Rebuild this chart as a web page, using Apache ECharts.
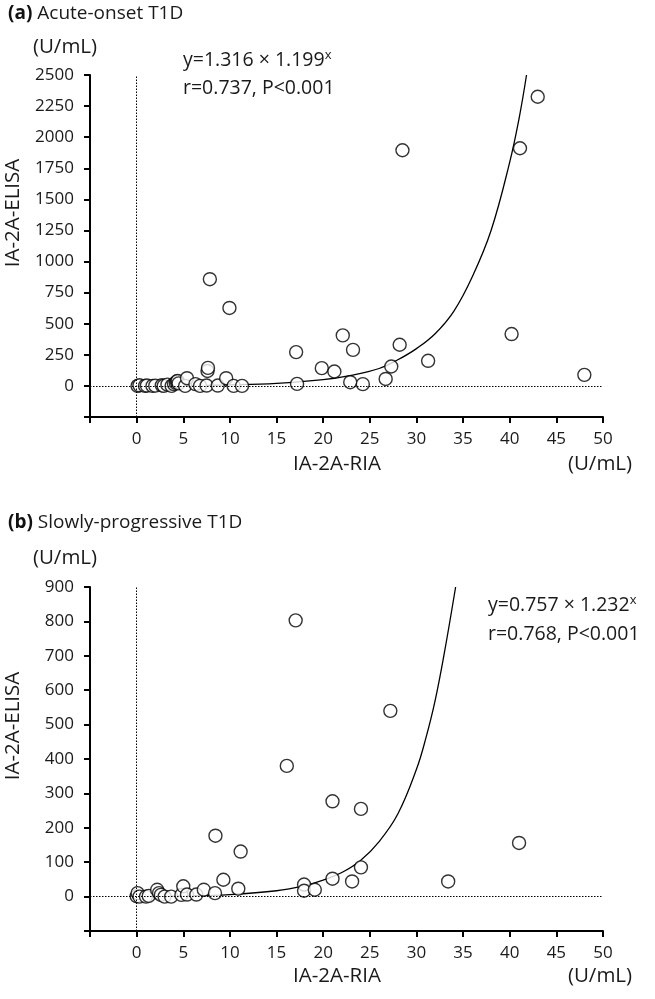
<!DOCTYPE html>
<html><head><meta charset="utf-8">
<script src="https://cdn.jsdelivr.net/npm/echarts@6/dist/echarts.min.js"></script>
<style>html,body{margin:0;padding:0;background:#fff}#c{width:655px;height:999px}</style>
</head><body><div id="c"></div>
<script>
// ---- Data ----
// Panel (a) Acute-onset T1D: [IA-2A-RIA, IA-2A-ELISA]
const acutePoints = [[0.1,0],[0.3,5],[0.9,0],[1.1,3],[1.7,0],[2.0,2],[2.7,5],[2.9,0],[3.3,10],[3.75,0],[4.0,15],[4.2,25],[4.3,35],[4.4,40],[4.5,20],[5.2,0],[5.4,62],[6.3,14],[6.8,0],[7.5,3],[7.6,120],[7.65,145],[7.85,858],[8.7,3],[9.6,62],[9.95,627],[10.4,0],[11.3,0],[17.1,272],[17.2,16],[19.85,143],[21.2,116],[22.1,406],[22.9,30],[23.2,290],[24.25,14],[26.7,56],[27.3,156],[28.2,331],[28.5,1895],[31.25,202],[40.2,417],[41.1,1911],[43.0,2325],[48.0,89]];
// fitted curve (a)
const acuteCurveX = [0,5,10,15,20,23,26,28,30,32,34,36,38,40,41,41.8];
const acuteCurveY = [1,3,8,20,50,85,140,210,300,420,600,880,1250,1800,2150,2500];
// Panel (b) Slowly-progressive T1D
const slowPoints = [[0,1],[0.1,10],[0.3,0],[1.0,0],[1.3,2],[2.2,20],[2.4,10],[2.6,5],[3.0,0],[3.7,0],[4.8,5],[5.0,30],[5.4,6],[6.4,6],[7.2,20],[8.4,10],[8.45,177],[9.3,49],[10.9,23],[11.15,131],[16.1,380],[17.05,803],[17.95,35],[17.95,17],[19.1,20],[21.0,277],[21.0,52],[23.1,44],[24.05,255],[24.05,85],[27.2,540],[33.4,44],[41.0,156]];
const slowCurveX = [0,5,10,15,18,20,22,24,26,28,30,31,32,33,34.2];
const slowCurveY = [1,2,6,17,32,48,70,105,160,240,370,460,570,710,900];
// axes
const xRange = [-5, 50], xStep = 5;
const yRangeA = [-250, 2500], yStepA = 250;
const yRangeB = [-100, 900], yStepB = 100;
// texts
const titleA = ['(a)', ' Acute-onset T1D'];
const titleB = ['(b)', ' Slowly-progressive T1D'];
const eqA = ['y=1.316 × 1.199', 'x', 'r=0.737, P<0.001'];
const eqB = ['y=0.757 × 1.232', 'x', 'r=0.768, P<0.001'];
const xName = 'IA-2A-RIA', yName = 'IA-2A-ELISA', unit = '(U/mL)';

// ---- Chart ----
const FONT = 'Open Sans';
const INK = '#1a1a1a';
const chart = echarts.init(document.getElementById('c'), null, {renderer: 'canvas'});
const axisCommon = {
  axisLine: {onZero: false, lineStyle: {color: '#000', width: 2}},
  axisTick: {length: 6, lineStyle: {color: '#000', width: 2}},
  splitLine: {show: false},
  axisLabel: {color: INK, fontFamily: FONT, fontSize: 17, formatter: v => v < 0 ? '' : String(v)}
};
function xAx(i) {
  return Object.assign({}, axisCommon, {type: 'value', gridIndex: i, min: xRange[0], max: xRange[1], interval: xStep,
    axisLabel: Object.assign({}, axisCommon.axisLabel, {margin: 14})});
}
function yAx(i, r, s) {
  return Object.assign({}, axisCommon, {type: 'value', gridIndex: i, min: r[0], max: r[1], interval: s,
    axisLabel: Object.assign({}, axisCommon.axisLabel, {margin: 16})});
}
const dotted = {symbol: 'none', silent: true, label: {show: false},
  lineStyle: {color: '#000', type: [1.5, 1.5], width: 1}, data: [{xAxis: 0}, {yAxis: 0}]};
function scatter(i, data) {
  return {type: 'scatter', xAxisIndex: i, yAxisIndex: i, data: data, symbolSize: 13, z: 3,
    itemStyle: {color: '#fff', borderColor: '#000', borderWidth: 1.4}, markLine: dotted};
}
function curve(i, xs, ys) {
  return {type: 'line', xAxisIndex: i, yAxisIndex: i, data: xs.map((x, k) => [x, ys[k]]),
    smooth: 0.4, showSymbol: false, clip: true, z: 2, lineStyle: {color: '#000', width: 1.3}};
}
function ctxt(x, y, text, size, rot) {
  return {type: 'text', x: x, y: y, rotation: rot || 0, style: {text: text, fill: INK,
    font: size + 'px "' + FONT + '"', align: 'center', verticalAlign: 'middle'}};
}
function eqLine1(x, y, eq) {
  return {type: 'text', x: x, y: y, style: {
    text: '{m|' + eq[0] + '}{s|' + eq[1] + '}', verticalAlign: 'middle',
    rich: {m: {fontFamily: FONT, fontSize: 19.5, fill: INK},
           s: {fontFamily: FONT, fontSize: 13, fill: INK, verticalAlign: 'top', padding: [0,0,10,0]}}
  }};
}
function eqLine2(x, y, eq) {
  return {type: 'text', x: x, y: y, style: {text: eq[2], fill: INK, font: '19.5px "' + FONT + '"', verticalAlign: 'middle'}};
}
function titleText(x, y, t) {
  return {type: 'text', x: x, y: y, style: {
    text: '{b|' + t[0] + '}{r|' + t[1] + '}', verticalAlign: 'middle',
    rich: {b: {fontFamily: FONT, fontWeight: 'bold', fontSize: 19, fill: '#111'},
           r: {fontFamily: FONT, fontSize: 19, fill: INK}}
  }};
}
chart.setOption({
  animation: false,
  grid: [
    {left: 90, top: 75, width: 513, height: 342},
    {left: 90, top: 587, width: 513, height: 344}
  ],
  xAxis: [xAx(0), xAx(1)],
  yAxis: [yAx(0, yRangeA, yStepA), yAx(1, yRangeB, yStepB)],
  series: [
    scatter(0, acutePoints), curve(0, acuteCurveX, acuteCurveY),
    scatter(1, slowPoints), curve(1, slowCurveX, slowCurveY)
  ],
  graphic: [
    titleText(8, 14, titleA),
    titleText(8, 523, titleB),
    ctxt(65, 47, unit, 20.5), ctxt(65, 558, unit, 20.5),
    ctxt(600, 464, unit, 20.5), ctxt(600, 976, unit, 20.5),
    ctxt(337, 464, xName, 20.5), ctxt(337, 976, xName, 20.5),
    ctxt(13, 213, yName, 20.5, Math.PI / 2),
    ctxt(13, 726, yName, 20.5, Math.PI / 2),
    eqLine1(183, 60, eqA), eqLine2(183, 88, eqA),
    eqLine1(488, 605, eqB), eqLine2(488, 634, eqB)
  ]
});
</script></body></html>
